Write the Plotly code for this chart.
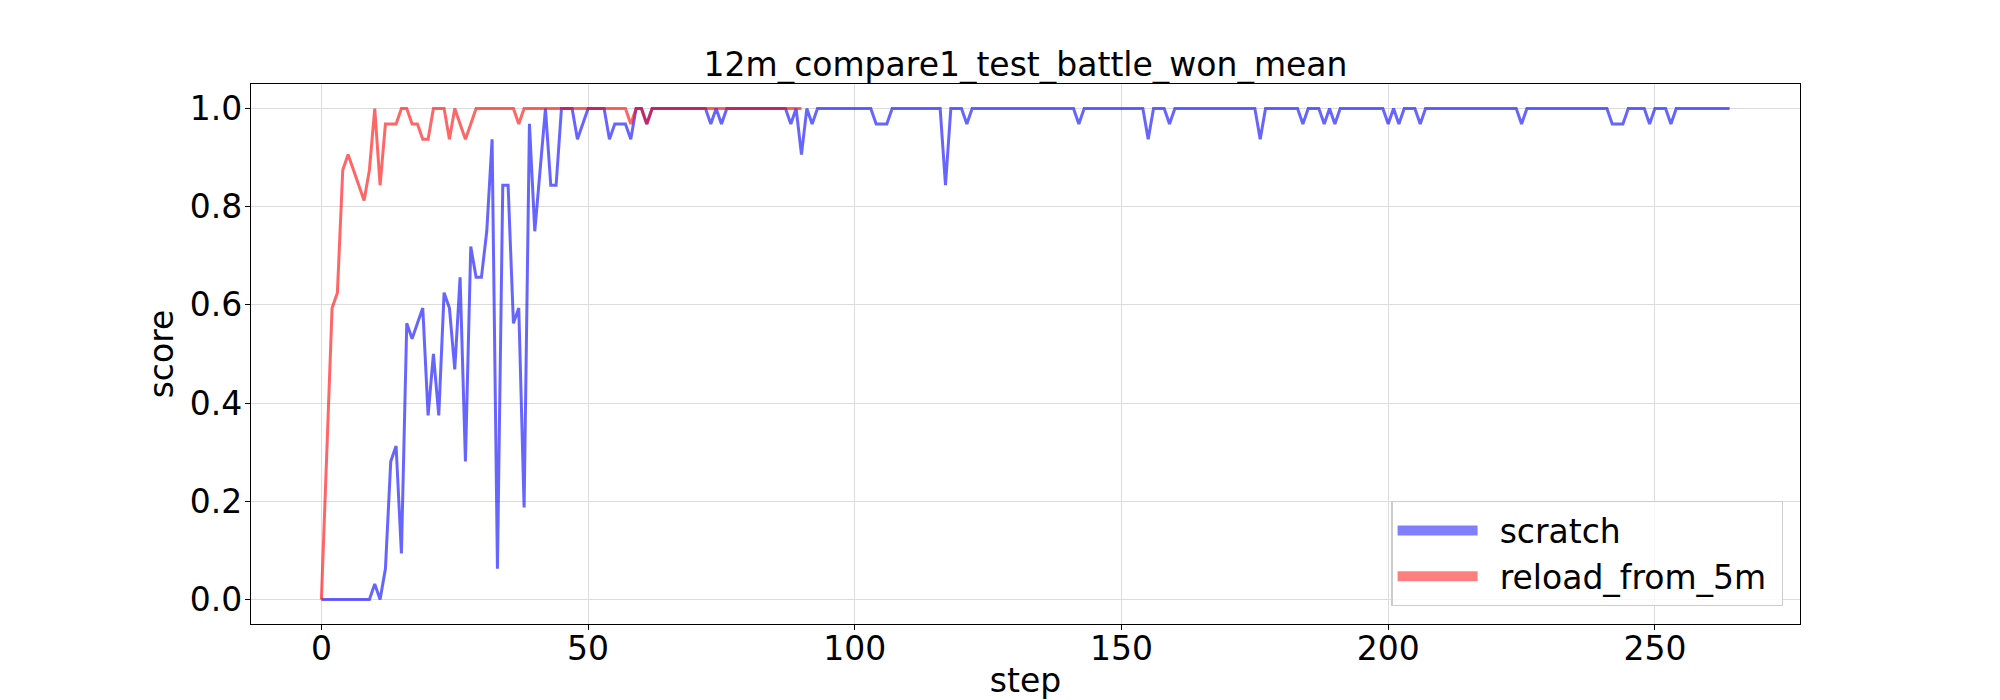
import plotly.graph_objects as go

title_text = "12m_compare1_test_battle_won_mean"
series_names = ["scratch", "reload_from_5m"]

scratch = [
    0, 0, 0, 0, 0, 0, 0, 0, 0, 0,
    0.03125, 0, 0.0625, 0.28125, 0.3125, 0.09375, 0.5625, 0.53125, 0.5625, 0.59375,
    0.375, 0.5, 0.375, 0.625, 0.59375, 0.46875, 0.65625, 0.28125, 0.71875, 0.65625,
    0.65625, 0.75, 0.9375, 0.0625, 0.84375, 0.84375, 0.5625, 0.59375, 0.1875, 0.96875,
    0.75, 0.875, 1, 0.84375, 0.84375, 1, 1, 1, 0.9375, 0.96875,
    1, 1, 1, 1, 0.9375, 0.96875, 0.96875, 0.96875, 0.9375, 1,
    1, 0.96875, 1, 1, 1, 1, 1, 1, 1, 1,
    1, 1, 1, 0.96875, 1, 0.96875, 1, 1, 1, 1,
    1, 1, 1, 1, 1, 1, 1, 1, 0.96875, 1,
    0.90625, 1, 0.96875, 1, 1, 1, 1, 1, 1, 1,
    1, 1, 1, 1, 0.96875, 0.96875, 0.96875, 1, 1, 1,
    1, 1, 1, 1, 1, 1, 1, 0.84375, 1, 1,
    1, 0.96875, 1, 1, 1, 1, 1, 1, 1, 1,
    1, 1, 1, 1, 1, 1, 1, 1, 1, 1,
    1, 1, 0.96875, 1, 1, 1, 1, 1, 1, 1,
    1, 1, 1, 1, 1, 0.9375, 1, 1, 1, 0.96875,
    1, 1, 1, 1, 1, 1, 1, 1, 1, 1,
    1, 1, 1, 1, 1, 1, 0.9375, 1, 1, 1,
    1, 1, 1, 1, 0.96875, 1, 1, 1, 0.96875, 1,
    0.96875, 1, 1, 1, 1, 1, 1, 1, 1, 1,
    0.96875, 1, 0.96875, 1, 1, 1, 0.96875, 1, 1, 1,
    1, 1, 1, 1, 1, 1, 1, 1, 1, 1,
    1, 1, 1, 1, 1, 0.96875, 1, 1, 1, 1,
    1, 1, 1, 1, 1, 1, 1, 1, 1, 1,
    1, 1, 0.96875, 0.96875, 0.96875, 1, 1, 1, 1, 0.96875,
    1, 1, 1, 0.96875, 1, 1, 1, 1, 1, 1,
    1, 1, 1, 1, 1,
]

reload_from_5m = [
    0, 0.3125, 0.59375, 0.625, 0.875, 0.90625, 0.875, 0.84375, 0.8125, 0.875,
    1, 0.84375, 0.96875, 0.96875, 0.96875, 1, 1, 0.96875, 0.96875, 0.9375,
    0.9375, 1, 1, 1, 0.9375, 1, 0.96875, 0.9375, 0.96875, 1,
    1, 1, 1, 1, 1, 1, 1, 0.96875, 1, 1,
    1, 1, 1, 1, 1, 1, 1, 1, 1, 1,
    1, 1, 1, 1, 1, 1, 1, 1, 0.96875, 1,
    1, 0.96875, 1, 1, 1, 1, 1, 1, 1, 1,
    1, 1, 1, 1, 1, 1, 1, 1, 1, 1,
    1, 1, 1, 1, 1, 1, 1, 1, 1, 1,
    1,
]

x_ticks = [0, 50, 100, 150, 200, 250]
y_ticks = [0.0, 0.2, 0.4, 0.6, 0.8, 1.0]
y_ticktext = ["0.0", "0.2", "0.4", "0.6", "0.8", "1.0"]

FONT = "DejaVu Sans"

fig = go.Figure()
fig.add_trace(go.Scatter(
    x=list(range(len(scratch))), y=scratch, mode="lines", name=series_names[0],
    line=dict(color="rgba(0,0,255,0.6)", width=3), showlegend=False,
))
fig.add_trace(go.Scatter(
    x=list(range(len(reload_from_5m))), y=reload_from_5m, mode="lines", name=series_names[1],
    line=dict(color="rgba(255,0,0,0.6)", width=3), showlegend=False,
))
# legend entries (thick, semi-transparent handles as in the reference)
fig.add_trace(go.Scatter(
    x=[None], y=[None], mode="lines", name="\u00a0\u2009" + series_names[0],
    line=dict(color="rgba(0,0,255,0.5)", width=13), showlegend=True,
))
fig.add_trace(go.Scatter(
    x=[None], y=[None], mode="lines", name="\u00a0\u2009" + series_names[1] + "\u00a0",
    line=dict(color="rgba(255,0,0,0.5)", width=13), showlegend=True,
))

axis_common = dict(
    showline=True, linecolor="black", linewidth=1.3, mirror=True,
    ticks="outside", ticklen=5, tickwidth=1.3, tickcolor="black",
    showgrid=True, gridcolor="#dcdcdc", gridwidth=1, zeroline=False,
    tickfont=dict(family=FONT, size=33, color="black"),
    automargin=False,
)

fig.update_layout(
    width=2000, height=700,
    margin=dict(l=251, r=200, t=84, b=76),
    paper_bgcolor="white", plot_bgcolor="white",
    title=dict(text=title_text, x=0.5, xref="paper", y=1 - 64 / 700, yref="container",
               yanchor="middle", xanchor="center",
               font=dict(family=FONT, size=33, color="black")),
    xaxis=dict(range=[-13.2, 277.2], tickmode="array", tickvals=x_ticks,
               ticklabelstandoff=-10,
               title=dict(text="step", font=dict(family=FONT, size=33, color="black"), standoff=12),
               **axis_common),
    yaxis=dict(range=[-0.05, 1.05], tickmode="array", tickvals=y_ticks, ticktext=y_ticktext,
               ticklabelstandoff=-4,
               title=dict(text="score", font=dict(family=FONT, size=33, color="black"), standoff=6),
               **axis_common),
    legend=dict(x=0.9892, xanchor="right", y=0.033, yanchor="bottom",
                bgcolor="rgba(255,255,255,0.8)", bordercolor="#cccccc", borderwidth=1.3,
                font=dict(family=FONT, size=33, color="black"), itemwidth=80),
    showlegend=True,
)

fig.write_html("out.html", config={"displayModeBar": False},
               post_script="document.body.style.margin='0';document.body.style.padding='0';")
